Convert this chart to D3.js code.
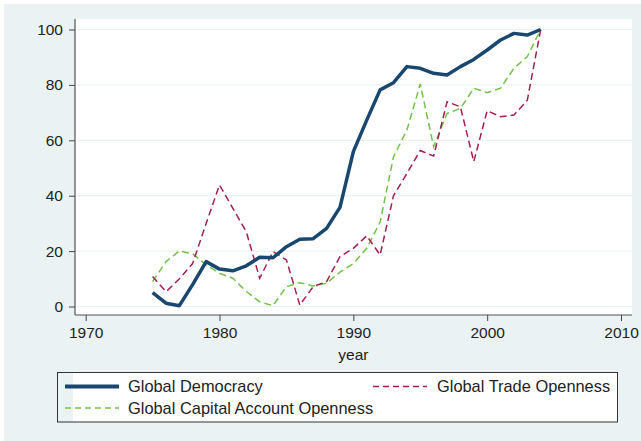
<!DOCTYPE html>
<html>
<head>
<meta charset="utf-8">
<script src="https://cdn.jsdelivr.net/npm/d3@7"></script>
<style>
  html, body { margin: 0; padding: 0; background: #ffffff; }
  svg { display: block; font-family: "Liberation Sans", Arial, sans-serif; }
</style>
</head>
<body>
<svg id="chart" width="641" height="441"></svg>
<script>
const years = d3.range(1975, 2005);
const democracy = [5, 1.2, 0.3, 8, 16.2, 13.5, 12.9, 14.7, 17.8, 17.6, 21.6, 24.3, 24.5, 28.2, 35.8,
  55.9, 67.3, 78.2, 80.8, 86.6, 86, 84.2, 83.6, 86.6, 89.2, 92.6, 96.2, 98.6, 98, 100];
const trade = [10.8, 5.3, 10, 15.6, 30, 43.9, 35.4, 27, 10.2, 19.8, 16.8, 0.5, 7.2, 9, 18,
  21, 25.5, 18.6, 40, 48, 56.3, 54.3, 73.9, 72.1, 52.3, 70.7, 68.5, 69.1, 74.5, 100];
const capital = [9, 16.2, 20.1, 19, 15, 12, 10.2, 5.4, 1.7, 0.3, 7.2, 8.6, 7.4, 8.4, 12.4,
  15.5, 21, 30.5, 54, 63.7, 80.3, 57.7, 69.7, 71.5, 78.8, 77.2, 78.8, 86, 90.2, 100];
const xTicks = [1970, 1980, 1990, 2000, 2010];
const yTicks = [0, 20, 40, 60, 80, 100];
const seriesNames = ["Global Democracy", "Global Trade Openness", "Global Capital Account Openness"];

const colors = { dem: "#1a476f", trade: "#a3204d", cap: "#74c14a", bg: "#eaf2f3" };

const svg = d3.select("#chart");
const plot = { left: 75, right: 632, top: 19, bottom: 315 };

const x = d3.scaleLinear().domain([1970, 2010]).range([85.7, 621]);
const y = d3.scaleLinear().domain([0, 100]).range([306.5, 29.5]);

// outer background
svg.append("rect").attr("x", 4).attr("y", 4).attr("width", 637).attr("height", 437).attr("fill", colors.bg);
// plot region
svg.append("rect").attr("x", plot.left).attr("y", plot.top)
  .attr("width", plot.right - plot.left).attr("height", plot.bottom - plot.top).attr("fill", "#ffffff");

// gridlines
svg.append("g").selectAll("line").data(yTicks).join("line")
  .attr("x1", plot.left + 1).attr("x2", plot.right)
  .attr("y1", d => y(d)).attr("y2", d => y(d))
  .attr("stroke", colors.bg).attr("stroke-width", 1.2);

// axes
const yAxis = d3.axisLeft(y).tickValues(yTicks).tickSize(6).tickPadding(6);
const gy = svg.append("g").attr("transform", `translate(${plot.left},0)`).call(yAxis);
gy.select(".domain").attr("d", `M0,${plot.top}V${plot.bottom}`);
const xAxis = d3.axisBottom(x).tickValues(xTicks).tickFormat(d3.format("d")).tickSize(6).tickPadding(6);
const gx = svg.append("g").attr("transform", `translate(0,${plot.bottom})`).call(xAxis);
gx.select(".domain").attr("d", `M${plot.left},0H${plot.right}`);

[gx, gy].forEach(g => {
  g.select(".domain").attr("stroke", "#555").attr("stroke-width", 1.2);
  g.selectAll(".tick line").attr("stroke", "#444").attr("stroke-width", 1);
  g.selectAll(".tick text").attr("fill", "#222").style("font-size", "15.5px")
    .style("font-family", "'Liberation Sans', Arial, sans-serif");
});

svg.append("text").attr("x", x(1990)).attr("y", 360).attr("text-anchor", "middle")
  .attr("fill", "#222").style("font-size", "15.5px").text("year");

// lines
const line = vals => d3.line().x((d, i) => x(years[i])).y(d => y(d))(vals);
svg.append("path").attr("d", line(capital)).attr("fill", "none")
  .attr("stroke", colors.cap).attr("stroke-width", 1.5).attr("stroke-dasharray", "7,4");
svg.append("path").attr("d", line(trade)).attr("fill", "none")
  .attr("stroke", colors.trade).attr("stroke-width", 1.5).attr("stroke-dasharray", "7,4");
svg.append("path").attr("d", line(democracy)).attr("fill", "none")
  .attr("stroke", colors.dem).attr("stroke-width", 3.5).attr("stroke-linejoin", "round");

// legend
const lg = svg.append("g");
lg.append("rect").attr("x", 73).attr("y", 372).attr("width", 545).attr("height", 50).attr("fill", "#ffffff");
lg.append("rect").attr("x", 57.5).attr("y", 372.5).attr("width", 560).attr("height", 49.5)
  .attr("fill", "none").attr("stroke", "#333").attr("stroke-width", 1);
const items = [
  { name: seriesNames[0], color: colors.dem, w: 4, dash: null, x0: 65, x1: 119, cy: 386.5, tx: 128 },
  { name: seriesNames[1], color: colors.trade, w: 1.5, dash: "6,4", x0: 373, x1: 427, cy: 386.5, tx: 437 },
  { name: seriesNames[2], color: colors.cap, w: 1.5, dash: "6,4", x0: 65, x1: 119, cy: 408, tx: 128 }
];
items.forEach(it => {
  const l = lg.append("line").attr("x1", it.x0).attr("x2", it.x1).attr("y1", it.cy).attr("y2", it.cy)
    .attr("stroke", it.color).attr("stroke-width", it.w);
  if (it.dash) l.attr("stroke-dasharray", it.dash);
  lg.append("text").attr("x", it.tx).attr("y", it.cy + 5.5).attr("fill", "#222")
    .style("font-size", "16.4px").text(it.name);
});
</script>
</body>
</html>
